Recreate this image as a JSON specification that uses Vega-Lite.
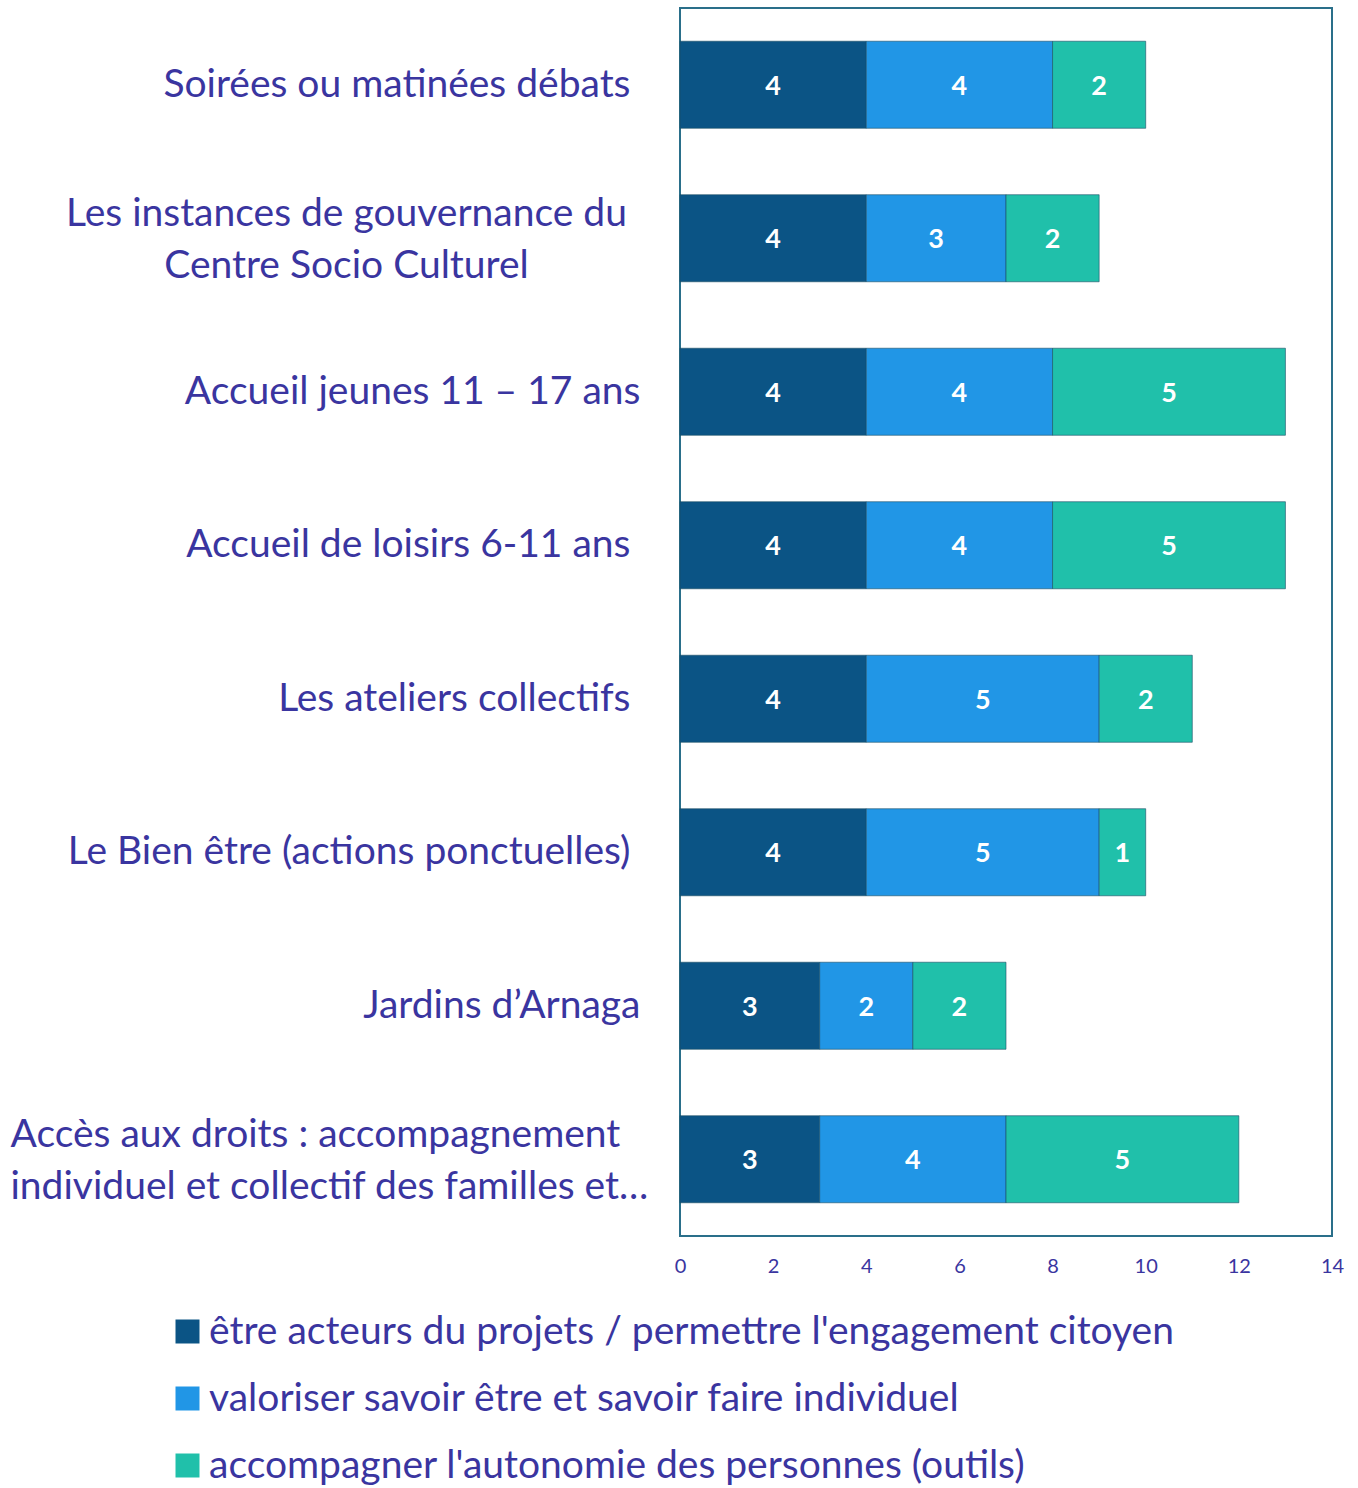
{
  "$schema": "https://vega.github.io/schema/vega-lite/v6.json",
  "autosize": "none",
  "width": 652,
  "height": 1228,
  "padding": {"left": 680, "top": 8, "right": 26, "bottom": 252},
  "background": "white",
  "config": {
    "view": {"stroke": "#2a6f8a", "strokeWidth": 2},
    "font": "Lato"
  },
  "data": {
    "values": [
      {"activite": "Soirées ou matinées débats", "serie": "être acteurs du projets / permettre l'engagement citoyen", "ordre": 1, "valeur": 4},
      {"activite": "Soirées ou matinées débats", "serie": "valoriser savoir être et savoir faire individuel", "ordre": 2, "valeur": 4},
      {"activite": "Soirées ou matinées débats", "serie": "accompagner l'autonomie des personnes (outils)", "ordre": 3, "valeur": 2},
      {"activite": "Les instances de gouvernance du|Centre Socio Culturel", "serie": "être acteurs du projets / permettre l'engagement citoyen", "ordre": 1, "valeur": 4},
      {"activite": "Les instances de gouvernance du|Centre Socio Culturel", "serie": "valoriser savoir être et savoir faire individuel", "ordre": 2, "valeur": 3},
      {"activite": "Les instances de gouvernance du|Centre Socio Culturel", "serie": "accompagner l'autonomie des personnes (outils)", "ordre": 3, "valeur": 2},
      {"activite": "Accueil jeunes 11 – 17 ans", "serie": "être acteurs du projets / permettre l'engagement citoyen", "ordre": 1, "valeur": 4},
      {"activite": "Accueil jeunes 11 – 17 ans", "serie": "valoriser savoir être et savoir faire individuel", "ordre": 2, "valeur": 4},
      {"activite": "Accueil jeunes 11 – 17 ans", "serie": "accompagner l'autonomie des personnes (outils)", "ordre": 3, "valeur": 5},
      {"activite": "Accueil de loisirs 6-11 ans", "serie": "être acteurs du projets / permettre l'engagement citoyen", "ordre": 1, "valeur": 4},
      {"activite": "Accueil de loisirs 6-11 ans", "serie": "valoriser savoir être et savoir faire individuel", "ordre": 2, "valeur": 4},
      {"activite": "Accueil de loisirs 6-11 ans", "serie": "accompagner l'autonomie des personnes (outils)", "ordre": 3, "valeur": 5},
      {"activite": "Les ateliers collectifs", "serie": "être acteurs du projets / permettre l'engagement citoyen", "ordre": 1, "valeur": 4},
      {"activite": "Les ateliers collectifs", "serie": "valoriser savoir être et savoir faire individuel", "ordre": 2, "valeur": 5},
      {"activite": "Les ateliers collectifs", "serie": "accompagner l'autonomie des personnes (outils)", "ordre": 3, "valeur": 2},
      {"activite": "Le Bien être (actions ponctuelles)", "serie": "être acteurs du projets / permettre l'engagement citoyen", "ordre": 1, "valeur": 4},
      {"activite": "Le Bien être (actions ponctuelles)", "serie": "valoriser savoir être et savoir faire individuel", "ordre": 2, "valeur": 5},
      {"activite": "Le Bien être (actions ponctuelles)", "serie": "accompagner l'autonomie des personnes (outils)", "ordre": 3, "valeur": 1},
      {"activite": "Jardins d’Arnaga", "serie": "être acteurs du projets / permettre l'engagement citoyen", "ordre": 1, "valeur": 3},
      {"activite": "Jardins d’Arnaga", "serie": "valoriser savoir être et savoir faire individuel", "ordre": 2, "valeur": 2},
      {"activite": "Jardins d’Arnaga", "serie": "accompagner l'autonomie des personnes (outils)", "ordre": 3, "valeur": 2},
      {"activite": "Accès aux droits : accompagnement|individuel et collectif des familles et…", "serie": "être acteurs du projets / permettre l'engagement citoyen", "ordre": 1, "valeur": 3},
      {"activite": "Accès aux droits : accompagnement|individuel et collectif des familles et…", "serie": "valoriser savoir être et savoir faire individuel", "ordre": 2, "valeur": 4},
      {"activite": "Accès aux droits : accompagnement|individuel et collectif des familles et…", "serie": "accompagner l'autonomie des personnes (outils)", "ordre": 3, "valeur": 5}
    ]
  },
  "transform": [
    {"stack": "valeur", "groupby": ["activite"], "sort": [{"field": "ordre", "order": "ascending"}], "as": ["debut", "fin"]},
    {"calculate": "(datum.debut + datum.fin) / 2", "as": "milieu"}
  ],
  "encoding": {
    "y": {
      "field": "activite",
      "type": "nominal",
      "sort": null,
      "scale": {"paddingInner": 0.433, "paddingOuter": 0.2165},
      "axis": {
        "title": null,
        "labelExpr": "split(datum.value, '|')",
        "labelFont": "Lato",
        "labelFontSize": 39,
        "labelColor": "#3a35a0",
        "labelLimit": 700,
        "labelLineHeight": 52,
        "labelOffset": {"condition": {"test": "indexof(datum.value, '|') >= 0", "value": -24}, "value": 0},
        "labelAlign": {"condition": [
          {"test": "indexof(datum.value, 'Accès') >= 0", "value": "left"},
          {"test": "indexof(datum.value, 'instances') >= 0", "value": "center"}
        ], "value": "right"},
        "labelPadding": {"condition": [
          {"test": "indexof(datum.value, 'Accès') >= 0", "value": 670},
          {"test": "indexof(datum.value, 'instances') >= 0", "value": 334},
          {"test": "indexof(datum.value, 'jeunes') >= 0 || indexof(datum.value, 'Jardins') >= 0", "value": 40}
        ], "value": 50},
        "ticks": false,
        "domain": false
      }
    }
  },
  "layer": [
    {
      "mark": {"type": "bar", "stroke": "#1d4f66", "strokeWidth": 1, "strokeOpacity": 0.6},
      "encoding": {
        "x": {
          "field": "debut",
          "type": "quantitative",
          "scale": {"domain": [0, 14], "nice": false},
          "axis": {
            "title": null,
            "values": [0, 2, 4, 6, 8, 10, 12, 14],
            "labelFont": "Lato",
            "labelFontSize": 20,
            "labelColor": "#3a35a0",
            "labelPadding": 20,
            "ticks": false,
            "domain": false,
            "grid": false,
            "labelFlush": false
          }
        },
        "x2": {"field": "fin"},
        "color": {
          "field": "serie",
          "type": "nominal",
          "sort": ["être acteurs du projets / permettre l'engagement citoyen", "valoriser savoir être et savoir faire individuel", "accompagner l'autonomie des personnes (outils)"],
          "scale": {
            "domain": ["être acteurs du projets / permettre l'engagement citoyen", "valoriser savoir être et savoir faire individuel", "accompagner l'autonomie des personnes (outils)"],
            "range": ["#0b5485", "#2196e6", "#20c0aa"]
          },
          "legend": {
            "title": null,
            "orient": "none",
            "legendX": -512,
            "legendY": 1304,
            "direction": "vertical",
            "symbolType": "square",
            "symbolSize": 576,
            "symbolStrokeWidth": 0,
            "labelFont": "Lato",
            "labelFontSize": 39,
            "labelColor": "#3a35a0",
            "labelLimit": 1200,
            "rowPadding": 27,
            "labelOffset": 2
          }
        }
      }
    },
    {
      "mark": {"type": "text", "color": "white", "fontWeight": "bold", "fontSize": 27, "font": "Lato", "baseline": "middle", "dy": 2},
      "encoding": {
        "x": {"field": "milieu", "type": "quantitative"},
        "text": {"field": "valeur", "type": "quantitative"}
      }
    },
    {
      "mark": {"type": "rule", "color": "#1d4f66", "strokeWidth": 2},
      "encoding": {"x": {"datum": 0}}
    }
  ]
}
